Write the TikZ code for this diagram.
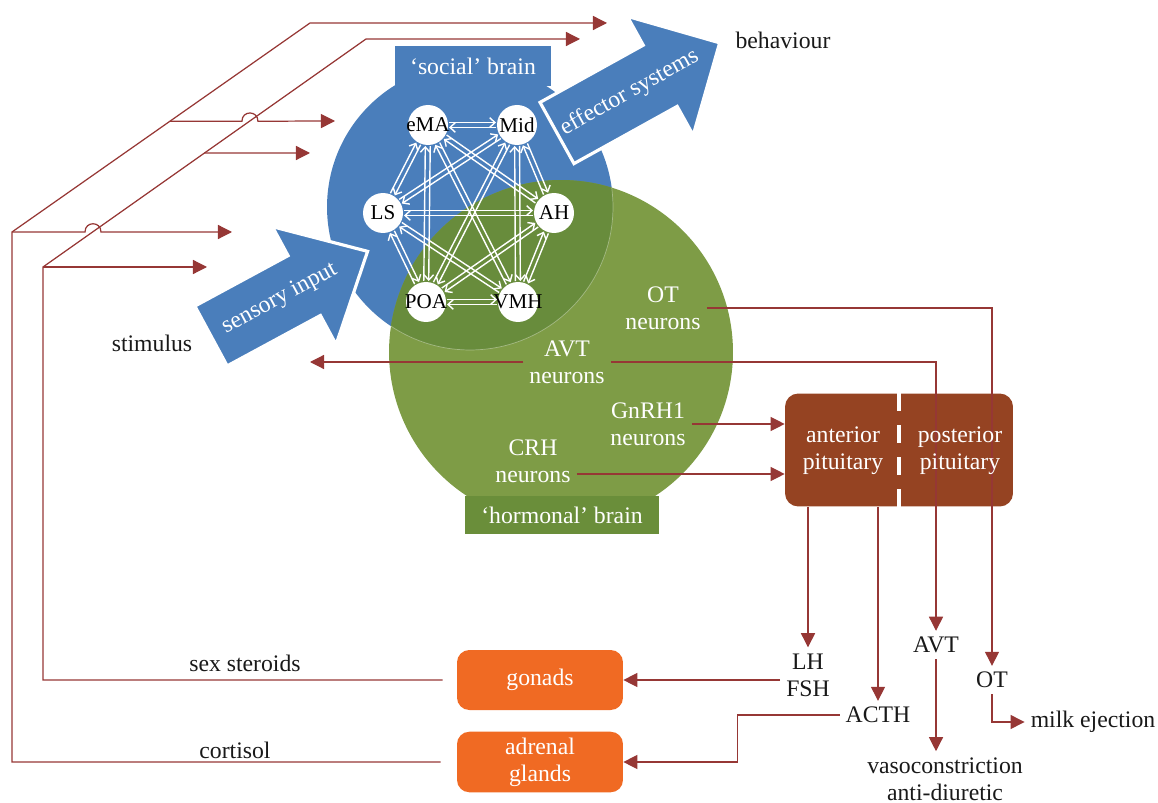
\documentclass[tikz,border=0pt]{standalone}
\usepackage{fontspec}
\setmainfont{Liberation Serif}
\usepackage{tikz}
\usetikzlibrary{calc,arrows.meta}

\definecolor{brainblue}{RGB}{74,126,187}
\definecolor{braingreen}{RGB}{126,156,70}
\definecolor{overlapgreen}{RGB}{104,140,60}
\definecolor{labelgreen}{RGB}{106,142,58}
\definecolor{pitbrown}{RGB}{149,67,34}
\definecolor{glandorange}{RGB}{240,106,35}
\definecolor{linkred}{RGB}{150,55,53}

\begin{document}
\begin{tikzpicture}[x=0.02cm, y=-0.02cm,
    txt/.style={font=\fontsize{13.5}{15.5}\selectfont, align=center, text=black!90},
    wtxt/.style={txt, text=white},
    area/.style={circle, fill=white, minimum size=0.8cm, inner sep=0pt,
        label={[font=\fontsize{12}{14}\selectfont, inner sep=0pt]center:#1}},
    link/.style={white, line width=0.8pt, -{Straight Barb[length=3pt,width=5.5pt]},
        shorten >=0.42cm, shorten <=0.42cm},
    hormone/.style={linkred, line width=0.7pt, -{Triangle[length=8pt,width=8pt]}},
    gland/.style={wtxt, fill=glandorange, rounded corners=7pt, minimum width=3.32cm, minimum height=1.2cm},
    bigarrow/.style={fill=brainblue, draw=white, line width=1.8pt, line join=miter}]
    \useasboundingbox (0,0) rectangle (1158,803);

    % the two brains
    \fill[brainblue] (470,207) circle[radius=2.86cm];
    \fill[braingreen] (561,352) circle[radius=3.44cm];
    \begin{scope}
        \clip (470,207) circle[radius=2.86cm];
        \fill[overlapgreen] (561,352) circle[radius=3.44cm];
    \end{scope}
    \begin{scope}
        \clip (561,352) circle[radius=3.44cm];
        \draw[white, opacity=0.35, line width=0.4pt] (470,207) circle[radius=2.86cm];
    \end{scope}

    \begin{scope}[shift={(211,336)}, rotate=28.4]
        \draw[bigarrow] (0,-34) -- (106,-34) -- (106,-67) -- (178,0) -- (106,67) -- (106,34) -- (0,34) -- cycle;
        \node[wtxt, rotate=28.4] (sensory) at (78,0) {sensory input};
    \end{scope}
    \begin{scope}[shift={(557,133)}, rotate=29]
        \draw[bigarrow] (0,-35) -- (118,-35) -- (118,-68) -- (186,0) -- (118,68) -- (118,35) -- (0,35) -- cycle;
        \node[wtxt, rotate=29] (effector) at (83,0) {effector systems};
    \end{scope}

    \node[wtxt, fill=brainblue, minimum width=3.14cm, minimum height=0.8cm] (social) at (473,66) {‘social’ brain};
    \node[wtxt, fill=labelgreen, minimum width=3.88cm, minimum height=0.76cm] (hormonal) at (562,515) {‘hormonal’ brain};

    % social behaviour network
    \node[area=eMA] (ema) at (428,125) {};
    \node[area=Mid] (mid) at (517,125) {};
    \node[area=LS] (ls) at (383,213) {};
    \node[area=AH] (ah) at (554,213) {};
    \node[area=POA] (poa) at (426,302) {};
    \node[area=VMH] (vmh) at (518,302) {};
    \foreach \a/\b in {ema/mid, ema/ls, ema/ah, ema/poa, ema/vmh, mid/ls, mid/ah, mid/poa,
        mid/vmh, ls/ah, ls/poa, ls/vmh, ah/poa, ah/vmh, poa/vmh} {
        \draw[link] ($(\a)!1.4pt!90:(\b)$) -- ($(\b)!1.4pt!-90:(\a)$);
        \draw[link] ($(\b)!1.4pt!90:(\a)$) -- ($(\a)!1.4pt!-90:(\b)$);
    }

    \node[wtxt] (otn) at (663,308) {OT\\neurons};
    \node[wtxt] (avtn) at (567,362) {AVT\\neurons};
    \node[wtxt] (gnrhn) at (648,424) {GnRH1\\neurons};
    \node[wtxt] (crhn) at (533,461) {CRH\\neurons};

    % pituitary and glands
    \node[fill=pitbrown, rounded corners=7.5pt, minimum width=4.56cm, minimum height=2.26cm] (pit) at (899,450) {};
    \draw[white, line width=2.5pt, dash pattern=on 0.36cm off 0.28cm] (pit.north) -- (pit.south);
    \node[gland] (gon) at (540,680) {gonads};
    \node[gland, minimum height=1.18cm] (adr) at (540,762) {adrenal\\glands};

    \node[txt] (behav) at (783,40) {behaviour};
    \node[txt] (stim) at (152,343) {stimulus};
    \node[txt] (sexst) at (245,663) {sex steroids};
    \node[txt] (cort) at (235,750) {cortisol};
    \node[txt] (lhfsh) at (808,675) {LH\\FSH};
    \node[txt] (acth) at (878,715) {ACTH};
    \node[txt] (avt) at (936,645) {AVT};
    \node[txt] (ot) at (992,680) {OT};
    \node[txt] (vaso) at (945,779) {vasoconstriction\\anti-diuretic};
    \node[txt] (milk) at (1093,722) {milk ejection};

    % hormone pathways
    \draw[hormone] (gnrhn.east) -- (gnrhn.east -| pit.west);
    \draw[hormone] ([yshift=-0.26cm]crhn.east) -- ([yshift=-0.26cm]crhn.east -| pit.west);
    \coordinate (avtout) at (310,362);
    \draw[hormone] (avtn.west) -- (avtout);
    \draw[hormone] (avtn.east) -| (avt.north);
    \draw[hormone] (otn.east) -| (ot.north);
    \draw[hormone] (lhfsh.north |- pit.south) -- (lhfsh.north);
    \draw[hormone] (acth.north |- pit.south) -- (acth.north);
    \draw[hormone] (avt.south) -- (avt.south |- vaso.north);
    \draw[hormone] (ot.south) |- (milk.west);
    \draw[hormone] (lhfsh.west |- gon.east) -- (gon.east);
    \draw[hormone] (acth.west) -- ++(-102,0) |- (adr.east);
    \node[wtxt] (ant) at (843,451) {anterior\\pituitary};
    \node[wtxt] (post) at (960,451) {posterior\\pituitary};

    % feedback of the sex steroids
    \coordinate (sxcorner) at (43,267);
    \coordinate (sxtop) at (366,39);
    \coordinate (sxend) at (580,39);
    \coordinate (sxin1) at (207,267);
    \coordinate (sxin2) at (310,153);
    \draw[hormone] ([xshift=-0.28cm]gon.west) -| (sxcorner) -- (sxtop) -- (sxend);
    \draw[hormone] (sxcorner) -- (sxin1);
    \draw[hormone] ($(sxcorner)!0.5!(sxtop)$) -- (sxin2);

    % feedback of cortisol
    \coordinate (cocorner) at (12,232);
    \coordinate (cotop) at (310,23);
    \coordinate (coend) at (607,23);
    \coordinate (coin1) at (232,232);
    \coordinate (coin2) at (335,121);
    \draw[hormone] ([xshift=-0.32cm]adr.west) -| (cocorner) -- (cotop) -- (coend);
    \draw[hormone] (cocorner) -- ++(73,0) .. controls +(0,-11) and +(0,-11) .. ++(16,0) -- (coin1);
    \draw[hormone] ($(cocorner)!0.53!(cotop)$) -- ++(72,0) .. controls +(0,-11) and +(0,-11) .. ++(16,0) -- (coin2);
\end{tikzpicture}
\end{document}
